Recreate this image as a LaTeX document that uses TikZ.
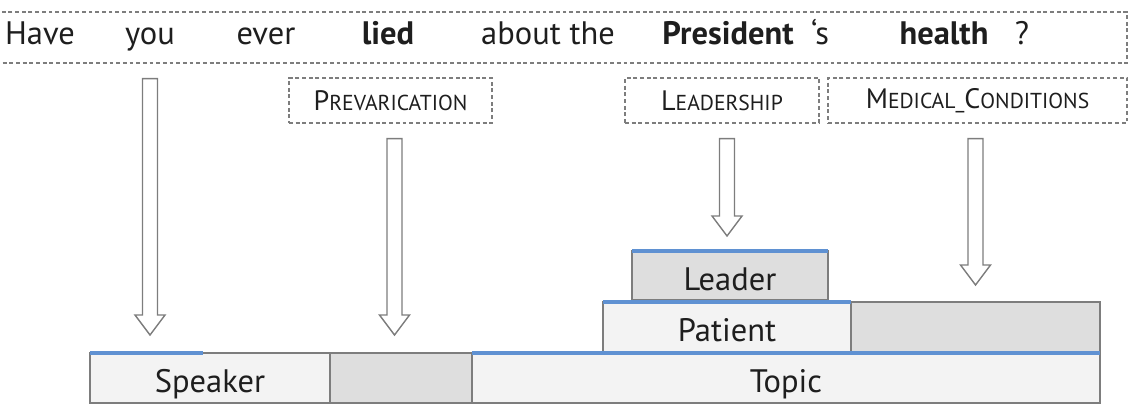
\documentclass[tikz,border=0pt]{standalone}
\usepackage{fontspec}
\setmainfont{PT Sans}
\usetikzlibrary{positioning, calc, fit}
\definecolor{inkdark}{RGB}{30,30,30}
\definecolor{framegray}{RGB}{125,125,125}
\definecolor{blockpale}{RGB}{243,243,243}
\definecolor{blockgray}{RGB}{222,222,222}
\definecolor{roleblue}{RGB}{95,145,210}
\tikzset{
  word/.style={
    text=inkdark, font=\fontsize{18.5}{20}\selectfont,
    inner sep=0pt, anchor=base
  },
  dashbox/.style={
    draw=framegray, line width=0.7pt, dash pattern=on 2.2pt off 1.6pt,
    inner sep=0pt, text=inkdark
  },
  framelabel/.style={
    dashbox, minimum height=0.9cm
  },
  block/.style={
    draw=framegray, line width=0.8pt, fill=blockpale, text=inkdark,
    font=\fontsize{18.5}{20}\selectfont, minimum height=1.0cm,
    text height=20.5pt, text depth=3.7pt,
    inner sep=0pt, outer sep=0pt
  },
  blockfill/.style={
    block, fill=blockgray
  },
  topline/.style={roleblue, line width=1.8pt},
  harrow/.style={draw=framegray, line width=0.8pt, fill=white, line join=miter}
}
\newcommand\fakesc[2]{{\fontsize{16}{18}\selectfont #1}{\fontsize{12.3}{14}\selectfont #2}}
\newcommand\hollowarrow[2]{%
  \draw[harrow] ($(#1)+(-7.5,0)$) -- ($(#2)+(-7.5,-20)$) -- ($(#2)+(-15,-20)$)
    -- (#2) -- ($(#2)+(15,-20)$) -- ($(#2)+(7.5,-20)$) -- ($(#1)+(7.5,0)$) -- cycle;}

\begin{document}
\begin{tikzpicture}[x=0.02cm, y=-0.02cm]
  \useasboundingbox (0,0) rectangle (1131,408);

  % sentence
  \node[dashbox, fit={(-4,12) (1127,63)}] (sent) {};
  \node[word] (have) at (40,45) {Have};
  \node[word] (you) at (150,45) {you};
  \node[word] (ever) at (266,45) {ever};
  \node[word] (lied) at (388,45) {\bfseries lied};
  \node[word] (about) at (548,45) {about the};
  \node[word] (pres) at (728,45) {\bfseries President};
  \node[word] (poss) at (820,45) {`s};
  \node[word] (health) at (944,45) {\bfseries health};
  \node[word] (qmark) at (1022,45) {?};

  % frames
  \node[framelabel, minimum width=4.06cm] (prev) at (390.5,100.5) {\fakesc{P}{REVARICATION}};
  \node[framelabel, minimum width=3.88cm] (lead) at (722,100.5) {\fakesc{L}{EADERSHIP}};
  \node[framelabel, minimum width=5.98cm] (med) at (977.5,100.5) {\fakesc{M}{EDICAL\_}\fakesc{C}{ONDITIONS}};

  % frame elements
  \node[block, minimum width=4.8cm] (speaker) at (210,378) {Speaker};
  \node[blockfill, minimum width=2.84cm, right=0pt of speaker] (prevfe) {};
  \node[block, minimum width=12.56cm, right=0pt of prevfe] (topic) {Topic};
  \node[block, minimum width=4.96cm] (patient) at (727,327) {Patient};
  \node[blockfill, minimum width=4.98cm, right=0pt of patient] (medfe) {};
  \node[blockfill, minimum width=3.92cm, minimum height=0.98cm] (leader) at (730,275.5) {Leader};

  \draw[topline] (speaker.north west) -- ++(113,0);
  \draw[topline] (topic.north west) -- (topic.north east);
  \draw[topline] (patient.north west) -- (patient.north east);
  \draw[topline] (leader.north west) -- (leader.north east);

  % arrows
  \coordinate (a1s) at ($(you |- sent.south)+(0,15)$);
  \coordinate (a1e) at ($(you |- speaker.north)+(0,-18)$);
  \coordinate (a2s) at ($(prev.south)+(4,15)$);
  \coordinate (a2e) at ($(a2s |- prevfe.north)+(0,-18)$);
  \coordinate (a3s) at ($(lead.south)+(5,15)$);
  \coordinate (a3e) at ($(a3s |- leader.north)+(0,-15)$);
  \coordinate (a4s) at ($(med.south)+(-2,15)$);
  \coordinate (a4e) at ($(a4s |- medfe.north)+(0,-17)$);
  \hollowarrow{a1s}{a1e}
  \hollowarrow{a2s}{a2e}
  \hollowarrow{a3s}{a3e}
  \hollowarrow{a4s}{a4e}
\end{tikzpicture}
\end{document}
